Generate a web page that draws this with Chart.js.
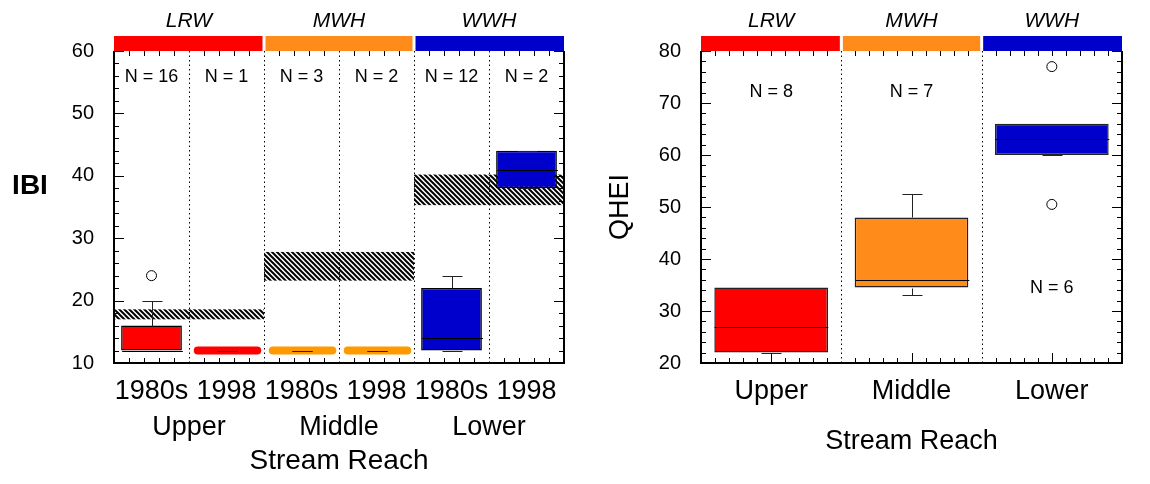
<!DOCTYPE html>
<html>
<head>
<meta charset="utf-8">
<title>IBI and QHEI by stream reach</title>
<script src="https://cdn.jsdelivr.net/npm/chart.js@4.4.0/dist/chart.umd.min.js"></script>
<style>
  body { margin: 0; background: #fff; }
  .panel { position: absolute; top: 0; }
</style>
</head>
<body>
<canvas id="ibiChart" class="panel" width="580" height="484" style="left:0"></canvas>
<canvas id="qheiChart" class="panel" width="570" height="484" style="left:580px"></canvas>
<script>
// categories
const periods = ["1980s", "1998", "1980s", "1998", "1980s", "1998"];
const reaches = ["Upper", "Middle", "Lower"];
const uses = ["LRW", "MWH", "WWH"];

// IBI box stats, one per period column
const ibiQ1 = [12, 12, 12, 12, 12, 38];
const ibiMedian = [12, 12, 12, 12, 14, 41];
const ibiQ3 = [16, 12, 12, 12, 22, 44];
const ibiLow = [12, 12, 12, 12, 12, 38];
const ibiHigh = [20, 12, 12, 12, 24, 44];
const ibiOutliers = [[24], [], [], [], [], []];
const ibiN = [16, 1, 3, 2, 12, 2];
const ibiNAt = [55, 55, 55, 55, 55, 55];
// criteria bands (hatched), one per reach
const ibiBandLow = [17, 23.2, 35.3];
const ibiBandHigh = [18.6, 27.8, 40.2];

// QHEI box stats, one per reach
const qheiQ1 = [22, 34.5, 60];
const qheiMedian = [27, 36, 63];
const qheiQ3 = [34.5, 48, 66];
const qheiLow = [22, 33, 60];
const qheiHigh = [34.5, 52.5, 66];
const qheiOutliers = [[], [], [77, 50.5]];
const qheiN = [8, 7, 6];
const qheiNAt = [71.2, 71.2, 33.5];

const useColors = ["#ff0000", "#ff8c1a", "#0000cc"];
const ibiColors = ["#ff0000", "#ff0000", "#ff9900", "#ff9900", "#0000cc", "#0000cc"];

Chart.defaults.font.family = "'Liberation Sans', Arial, sans-serif";
Chart.defaults.color = "#000";

function boxSeries(q1, q3) {
  return q1.map((v, i) => (v < q3[i] ? [v, q3[i]] : null));
}

// one line dataset per "row" of outliers so x stays the category index
function outlierSets(list) {
  const depth = Math.max(...list.map(o => o.length));
  const sets = [];
  for (let k = 0; k < depth; k++) {
    sets.push({
      type: "line",
      data: list.map(o => (k < o.length ? o[k] : null)),
      showLine: false,
      pointRadius: 5,
      pointBackgroundColor: "#fff",
      pointBorderColor: "#000",
      pointBorderWidth: 1,
    });
  }
  return sets;
}

function hatchPattern(ctx) {
  const c = document.createElement("canvas");
  c.width = c.height = 5;
  const g = c.getContext("2d");
  g.strokeStyle = "#000";
  g.lineWidth = 2;
  g.beginPath();
  g.moveTo(-1, -1); g.lineTo(6, 6);
  g.moveTo(-1, 4); g.lineTo(1, 6);
  g.moveTo(4, -1); g.lineTo(6, 1);
  g.stroke();
  return ctx.createPattern(c, "repeat");
}

function pill(ctx, x, y, w, h) {
  const r = h / 2;
  ctx.beginPath();
  ctx.moveTo(x + r, y);
  ctx.lineTo(x + w - r, y);
  ctx.arc(x + w - r, y + r, r, -Math.PI / 2, Math.PI / 2);
  ctx.lineTo(x + r, y + h);
  ctx.arc(x + r, y + r, r, Math.PI / 2, Math.PI * 1.5);
  ctx.fill();
}

function line(ctx, x0, y0, x1, y1) {
  ctx.beginPath();
  ctx.moveTo(x0, y0);
  ctx.lineTo(x1, y1);
  ctx.stroke();
}

function boxPlotExtras(o) {
  return {
    id: "boxPlotExtras",
    beforeDatasetsDraw(chart) {
      const { ctx, chartArea: a, scales: { y } } = chart;
      const n = o.q1.length, cw = (a.right - a.left) / n;
      ctx.save();
      // dotted dividers
      ctx.strokeStyle = "#000";
      ctx.lineWidth = 1;
      ctx.setLineDash([1.5, 3]);
      for (let i = 1; i < n; i++) {
        const px = Math.round(a.left + i * cw) + 0.5;
        line(ctx, px, a.top, px, a.bottom);
      }
      ctx.setLineDash([]);
      // hatched criteria bands
      if (o.bandLow) {
        ctx.fillStyle = hatchPattern(ctx);
        o.bandLow.forEach((lo, r) => {
          const xl = a.left + r * o.group * cw;
          const top = y.getPixelForValue(o.bandHigh[r]);
          const bot = y.getPixelForValue(lo);
          ctx.fillRect(xl, top, o.group * cw, bot - top);
        });
      }
      ctx.restore();
    },
    afterDatasetsDraw(chart) {
      const { ctx, chartArea: a, scales: { x, y } } = chart;
      const n = o.q1.length, cw = (a.right - a.left) / n;
      const boxW = cw * 0.81, cap = 20;
      const py = v => Math.round(y.getPixelForValue(v)) + 0.5;
      ctx.save();
      o.q1.forEach((q1, i) => {
        const cx = Math.round(x.getPixelForValue(i)) + 0.5;
        const q3 = o.q3[i];
        if (q1 === q3) {
          ctx.fillStyle = o.colors[i];
          pill(ctx, cx - cw * 0.45, y.getPixelForValue(q1) - 4, cw * 0.9, 8);
        }
        ctx.strokeStyle = "#222";
        ctx.lineWidth = 1;
        line(ctx, cx, py(q3), cx, py(o.hi[i]));
        line(ctx, cx - cap / 2, py(o.hi[i]), cx + cap / 2, py(o.hi[i]));
        line(ctx, cx, py(q1), cx, py(o.lo[i]));
        line(ctx, cx - cap / 2, py(o.lo[i]), cx + cap / 2, py(o.lo[i]));
        if (q1 < q3) {
          ctx.strokeStyle = "#000";
          line(ctx, cx - boxW / 2, py(o.med[i]), cx + boxW / 2, py(o.med[i]));
        }
      });
      ctx.restore();
    },
    afterDraw(chart) {
      const { ctx, chartArea: a, scales: { x, y } } = chart;
      const n = o.q1.length, cw = (a.right - a.left) / n;
      ctx.save();
      ctx.strokeStyle = "#000";
      ctx.lineWidth = 1;
      // inward y ticks on both sides
      for (let v = y.min; v <= y.max; v += 2) {
        const p = Math.round(y.getPixelForValue(v)) + 0.5;
        const len = v % 10 === 0 ? 10 : 5;
        line(ctx, a.left, p, a.left + len, p);
        line(ctx, a.right, p, a.right - len, p);
      }
      // inward x ticks top and bottom
      for (let i = 0; i < n; i++) {
        for (let k = 1; k < o.sub; k++) {
          const p = Math.round(a.left + i * cw + k * cw / o.sub) + 0.5;
          const len = o.centerTick && k === o.sub / 2 ? 10 : 5;
          line(ctx, p, a.top, p, a.top + 5);
          line(ctx, p, a.bottom, p, a.bottom - len);
        }
      }
      // frame
      ctx.lineWidth = 2;
      ctx.beginPath();
      ctx.moveTo(a.left, a.top);
      ctx.lineTo(a.left, a.bottom);
      ctx.lineTo(a.right, a.bottom);
      ctx.lineTo(a.right, a.top);
      ctx.stroke();
      // use designation strip
      const gw = o.group * cw;
      uses.forEach((u, r) => {
        const xl = a.left + r * gw + (r > 0 ? 1.5 : 0);
        const xr = a.left + (r + 1) * gw - (r < uses.length - 1 ? 1.5 : 0);
        ctx.fillStyle = useColors[r];
        ctx.fillRect(xl, a.top - 15, xr - xl, 15);
        ctx.fillStyle = "#000";
        ctx.font = "italic 21px 'Liberation Sans', Arial, sans-serif";
        ctx.textAlign = "center";
        ctx.textBaseline = "alphabetic";
        ctx.fillText(u, a.left + (r + 0.5) * gw, a.top - 24);
      });
      // sample sizes
      ctx.font = "18px 'Liberation Sans', Arial, sans-serif";
      o.n.forEach((c, i) => {
        ctx.fillText("N = " + c, x.getPixelForValue(i), y.getPixelForValue(o.nAt[i]));
      });
      if (o.yLabel) {
        ctx.font = "bold 28px 'Liberation Sans', Arial, sans-serif";
        ctx.textBaseline = "middle";
        ctx.fillText(o.yLabel, 30, 186);
      }
      ctx.restore();
    },
  };
}

// IBI chart
new Chart(document.getElementById("ibiChart"), {
  type: "bar",
  data: {
    labels: periods,
    datasets: [
      {
        label: "IBI",
        data: boxSeries(ibiQ1, ibiQ3),
        backgroundColor: ibiColors,
        borderColor: "#000",
        borderWidth: 1.5,
        borderSkipped: false,
        barPercentage: 0.9,
        categoryPercentage: 0.9,
      },
      ...outlierSets(ibiOutliers),
    ],
  },
  options: {
    responsive: false,
    animation: false,
    layout: { padding: { top: 51, right: 16, left: 0, bottom: 0 } },
    plugins: { legend: { display: false }, tooltip: { enabled: false } },
    scales: {
      x: {
        grid: { display: false },
        border: { display: false },
        ticks: { font: { size: 27 }, padding: 4, maxRotation: 0, autoSkip: false },
        afterFit: s => { s.height = 40; },
      },
      x2: {
        type: "category",
        labels: reaches,
        position: "bottom",
        weight: 1,
        offset: true,
        grid: { display: false },
        border: { display: false },
        ticks: { font: { size: 27 }, padding: 0 },
        title: { display: true, text: "Stream Reach", font: { size: 28 }, padding: { top: 0, bottom: 6 } },
        afterFit: s => { s.height = 81; },
      },
      y: {
        min: 10,
        max: 60,
        grid: { display: false },
        border: { display: false },
        ticks: { stepSize: 10, font: { size: 20 }, padding: 12 },
        afterFit: s => { s.width = 114; },
      },
    },
  },
  plugins: [boxPlotExtras({
    q1: ibiQ1, q3: ibiQ3, med: ibiMedian, lo: ibiLow, hi: ibiHigh,
    n: ibiN, nAt: ibiNAt, bandLow: ibiBandLow, bandHigh: ibiBandHigh,
    colors: ibiColors, group: 2, sub: 5, centerTick: false, yLabel: "IBI",
  })],
});

// QHEI chart
new Chart(document.getElementById("qheiChart"), {
  type: "bar",
  data: {
    labels: reaches,
    datasets: [
      {
        label: "QHEI",
        data: boxSeries(qheiQ1, qheiQ3),
        backgroundColor: useColors,
        borderColor: "#222",
        borderWidth: 1.5,
        borderSkipped: false,
        barPercentage: 0.9,
        categoryPercentage: 0.9,
      },
      ...outlierSets(qheiOutliers),
    ],
  },
  options: {
    responsive: false,
    animation: false,
    layout: { padding: { top: 51, right: 28, left: 0, bottom: 0 } },
    plugins: { legend: { display: false }, tooltip: { enabled: false } },
    scales: {
      x: {
        grid: { display: false },
        border: { display: false },
        ticks: { font: { size: 27 }, padding: 4, maxRotation: 0 },
        title: { display: true, text: "Stream Reach", font: { size: 27 }, padding: { top: 0, bottom: 26 } },
        afterFit: s => { s.height = 121; },
      },
      y: {
        min: 20,
        max: 80,
        grid: { display: false },
        border: { display: false },
        ticks: { stepSize: 10, font: { size: 20 }, padding: 12 },
        title: { display: true, text: "QHEI", font: { size: 27 }, padding: { top: 24, bottom: 0 } },
        afterFit: s => { s.width = 121; },
      },
    },
  },
  plugins: [boxPlotExtras({
    q1: qheiQ1, q3: qheiQ3, med: qheiMedian, lo: qheiLow, hi: qheiHigh,
    n: qheiN, nAt: qheiNAt, colors: useColors, group: 1, sub: 10, centerTick: true,
  })],
});
</script>
</body>
</html>
